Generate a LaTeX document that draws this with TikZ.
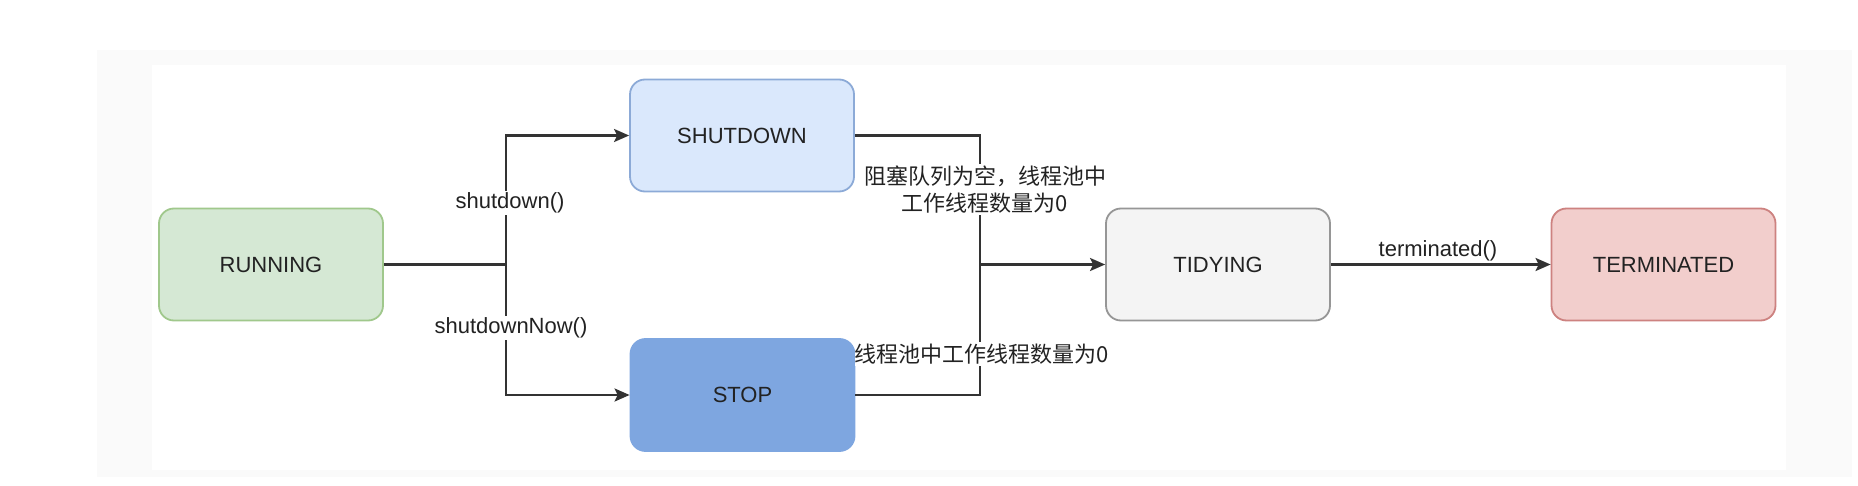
\documentclass[tikz,border=0pt]{standalone}
\usepackage{fontspec}
\setmainfont{Liberation Sans}
\newfontfamily\cjk{Noto Sans CJK SC}
\usetikzlibrary{arrows.meta}
\definecolor{txt}{HTML}{222222}
\definecolor{ln}{HTML}{333333}
\tikzset{
  state/.style={draw, line width=1.8pt, rounded corners=15pt, minimum width=224pt, minimum height=112pt, inner sep=0pt, text=txt, font=\fontsize{22}{26}\selectfont},
  conn/.style={draw=ln, line width=2.2pt},
  arr/.style={conn, -{Stealth[length=15pt,width=13pt,inset=3pt]}},
  lbl/.style={fill=white, inner xsep=0pt, inner ysep=1.5pt, text=txt, font=\fontsize{22}{27}\selectfont, align=center},
}
\begin{document}
\begin{tikzpicture}[x=1pt,y=-1pt]
\useasboundingbox (0,0) rectangle (1858,486);
\fill[white] (0,0) rectangle (1858,486);
\fill[black!2] (97,50) rectangle (1852,477);
\fill[white] (152,65) rectangle (1786,470);

\node[state, fill={rgb,255:red,213;green,232;blue,212}, draw={rgb,255:red,160;green,200;blue,140}] (run) at (271,264.5) {RUNNING};
\node[state, fill={rgb,255:red,218;green,232;blue,252}, draw={rgb,255:red,140;green,170;blue,215}] (shut) at (742,135.5) {SHUTDOWN};
\node[state, fill={rgb,255:red,126;green,166;blue,224}, draw={rgb,255:red,126;green,166;blue,224}] (stop) at (742.5,395) {STOP};
\node[state, fill={rgb,255:red,244;green,244;blue,244}, draw={rgb,255:red,150;green,150;blue,150}] (tidy) at (1218,264.5) {TIDYING};
\node[state, fill={rgb,255:red,242;green,206;blue,204}, draw={rgb,255:red,205;green,130;blue,128}] (term) at (1663.5,264.5) {TERMINATED};

\coordinate (fork) at (506,264.5);
\coordinate (join) at (980,264.5);

\draw[conn] (run.east) -- (fork);
\draw[arr] (fork) |- (shut.west);
\draw[arr] (fork) |- (stop.west);
\draw[conn] (shut.east) -| (join);
\draw[conn] (stop.east) -| (join);
\draw[arr] (join) -- (tidy.west);
\draw[arr] (tidy.east) -- (term.west);

\node[lbl] (l1) at (510,203) {shutdown()};
\node[lbl] (l2) at (511,328) {shutdownNow()};
\node[lbl] (l3) at (985,189.5) {\cjk 阻塞队列为空，线程池中\\\cjk 工作线程数量为0};
\node[lbl] (l4) at (982,354) {\cjk 线程池中工作线程数量为0};
\node[lbl, fill=none] (l5) at (1438,251) {terminated()};
\end{tikzpicture}
\end{document}
